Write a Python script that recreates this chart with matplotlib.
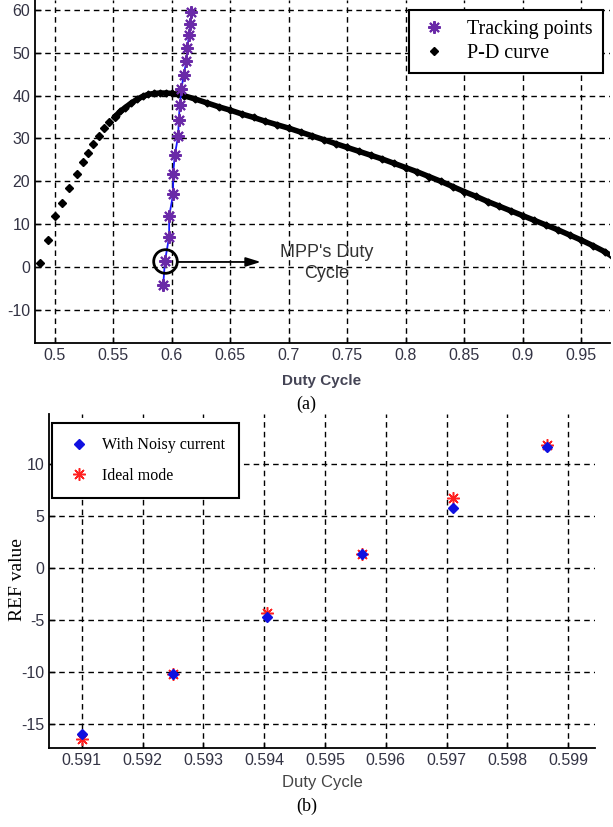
import numpy as np
import matplotlib
matplotlib.use("Agg")
import matplotlib.pyplot as plt

plt.rcParams['font.family'] = ['Liberation Sans', 'DejaVu Sans']
plt.rcParams['axes.unicode_minus'] = False

# (a) P-D curve: sparse left part, then the dense part
pd_x = [0.487, 0.4945, 0.5005, 0.5065, 0.5122, 0.519, 0.524, 0.5285, 0.533,
        0.5375, 0.542, 0.5465, 0.551]
pd_y = [1.0, 6.4, 12.0, 15.0, 18.4, 21.7, 24.5, 26.7, 28.8, 30.6, 32.4, 33.8, 35.0]

dense_x = [0.552, 0.556, 0.560, 0.565, 0.570, 0.575, 0.580, 0.585, 0.590, 0.595,
           0.600, 0.605, 0.610, 0.620, 0.630, 0.640, 0.650, 0.660, 0.670, 0.680,
           0.690, 0.700, 0.710, 0.720, 0.730, 0.740, 0.750, 0.760, 0.770, 0.780,
           0.790, 0.800, 0.810, 0.820, 0.830, 0.840, 0.850, 0.860, 0.870, 0.880,
           0.890, 0.900, 0.910, 0.920, 0.930, 0.940, 0.950, 0.960, 0.970, 0.977]
dense_y = [35.3, 36.3, 37.2, 38.2, 39.1, 39.8, 40.3, 40.5, 40.6, 40.6,
           40.5, 40.3, 40.0, 39.2, 38.3, 37.4, 36.6, 35.7, 34.9, 34.0,
           33.2, 32.4, 31.5, 30.6, 29.7, 28.8, 27.9, 27.0, 26.1, 25.2,
           24.2, 23.2, 22.2, 21.1, 20.0, 18.8, 17.6, 16.5, 15.3, 14.2,
           13.1, 12.0, 10.9, 9.8, 8.7, 7.5, 6.3, 5.0, 3.6, 2.4]

trk_x = [0.5926, 0.5941, 0.5977, 0.5977, 0.6011, 0.6011, 0.6025, 0.6054, 0.6059,
         0.6068, 0.6082, 0.6102, 0.6124, 0.6133, 0.6147, 0.6158, 0.6167]
trk_y = [-4.2, 1.4, 7.1, 11.9, 17.0, 21.8, 26.1, 30.6, 34.3, 37.7, 41.6, 44.9,
         48.0, 51.1, 54.2, 56.7, 59.6]
mpp_x, mpp_y = 0.5941, 1.4

# (b) REF value vs duty cycle
dc = [0.591, 0.5925, 0.59405, 0.5956, 0.5971, 0.59865]
ref_noisy = [-16.0, -10.2, -4.7, 1.3, 5.8, 11.6]
ref_ideal = [-16.4, -10.2, -4.3, 1.3, 6.7, 11.8]

W, H = 613, 827
fig = plt.figure(figsize=(W / 100, H / 100), dpi=100)

tick_col = '#333344'
grid_kw = dict(color='black', linestyle=(0, (4, 3)), linewidth=1.0)
asterisk = (8, 2, 0)


def style(ax):
    ax.grid(True, **grid_kw)
    ax.set_axisbelow(True)
    for s in ['top', 'right']:
        ax.spines[s].set_visible(False)
    for s in ['left', 'bottom']:
        ax.spines[s].set_linewidth(1.3)
    ax.tick_params(direction='in', length=4, width=1, colors='black',
                   labelcolor=tick_col, labelsize=11.5)


# ---- top plot ----
ax1 = fig.add_axes([35 / W, 1 - 343 / H, 575 / W, 343 / H])
ax1.plot(pd_x, pd_y, 'D', color='black', ms=4, label='P-D curve')
ax1.plot(dense_x, dense_y, '-', color='black', lw=4)
ax1.plot(dense_x, dense_y, 'D', color='black', ms=3.5)
ax1.plot(trk_x, trk_y, '-', color='#1a1aff', lw=1.3)
ax1.plot(trk_x, trk_y, linestyle='none', marker=asterisk, color='#6a2aa8', ms=9,
         mew=1.5, label='Tracking points')
ax1.plot([mpp_x], [mpp_y], 'o', ms=17, mfc='none', mec='black', mew=2)
ax1.annotate('', xy=(0.676, 1.2), xytext=(0.6045, 1.2),
             arrowprops=dict(arrowstyle='-|>,head_length=0.9,head_width=0.28',
                             color='black', lw=1.3, shrinkA=0, shrinkB=0))
ax1.text(0.732, 1.0, "MPP's Duty\nCycle", ha='center', va='center',
         fontsize=13, color='#333333', linespacing=1.3)
ax1.set_xlim(0.483, 0.9746)
ax1.set_ylim(-17.7, 62.3)
ax1.set_xticks(np.arange(0.5, 0.951, 0.05))
ax1.set_xticklabels(['%g' % round(v, 2) for v in np.arange(0.5, 0.951, 0.05)])
ax1.set_yticks(np.arange(-10, 61, 10))
style(ax1)
h, l = ax1.get_legend_handles_labels()
leg1 = ax1.legend(h[::-1], l[::-1], loc='upper right',
                  bbox_to_anchor=(603 / W, 1 - 10 / H), bbox_transform=fig.transFigure,
                  prop={'family': 'Liberation Serif', 'size': 14.5}, fancybox=False,
                  framealpha=1, edgecolor='black', borderpad=0.5, labelspacing=0.25,
                  handlelength=1.5, handletextpad=0.9, borderaxespad=0)
leg1.get_frame().set_linewidth(1.5)

fig.text(322 / W, 1 - 381 / H, 'Duty Cycle', ha='center', va='center',
         fontsize=11, color='#444455', fontweight='bold')
fig.text(0.5, 1 - 404 / H, '(a)', ha='center', va='center',
         fontsize=13, family='Liberation Serif')

# ---- bottom plot ----
ax2 = fig.add_axes([49 / W, 1 - 748 / H, 546 / W, 334 / H])
ax2.plot(dc, ref_ideal, linestyle='none', marker=asterisk, ms=9, mew=1.1,
         color='#ff2020', label='Ideal mode')
ax2.plot(dc, ref_noisy, 'D', ms=5, color='#1010e0', label='With Noisy current')
ax2.set_xlim(0.59046, 0.59944)
ax2.set_ylim(-17.3, 14.8)
ax2.set_xticks(np.arange(0.591, 0.59901, 0.001))
ax2.set_xticklabels(['%.3f' % v for v in np.arange(0.591, 0.59901, 0.001)])
ax2.set_yticks([-15, -10, -5, 0, 5, 10])
style(ax2)
h, l = ax2.get_legend_handles_labels()
leg2 = ax2.legend(h[::-1], l[::-1], loc='upper left',
                  bbox_to_anchor=(52 / W, 1 - 423 / H), bbox_transform=fig.transFigure,
                  prop={'family': 'Liberation Serif', 'size': 11.5}, fancybox=False,
                  framealpha=1, edgecolor='black', borderpad=0.9, labelspacing=0.9,
                  handlelength=1.6, handletextpad=0.6, borderaxespad=0)
leg2.get_frame().set_linewidth(1.5)

fig.text(17 / W, 1 - 580 / H, 'REF value', ha='center', va='center', rotation=90,
         fontsize=14, family='Liberation Serif')
fig.text(322 / W, 1 - 782 / H, 'Duty Cycle', ha='center', va='center',
         fontsize=12, color='#444444')
fig.text(0.5, 1 - 806 / H, '(b)', ha='center', va='center',
         fontsize=13, family='Liberation Serif')

fig.savefig('out.png', dpi=100, facecolor='white')
